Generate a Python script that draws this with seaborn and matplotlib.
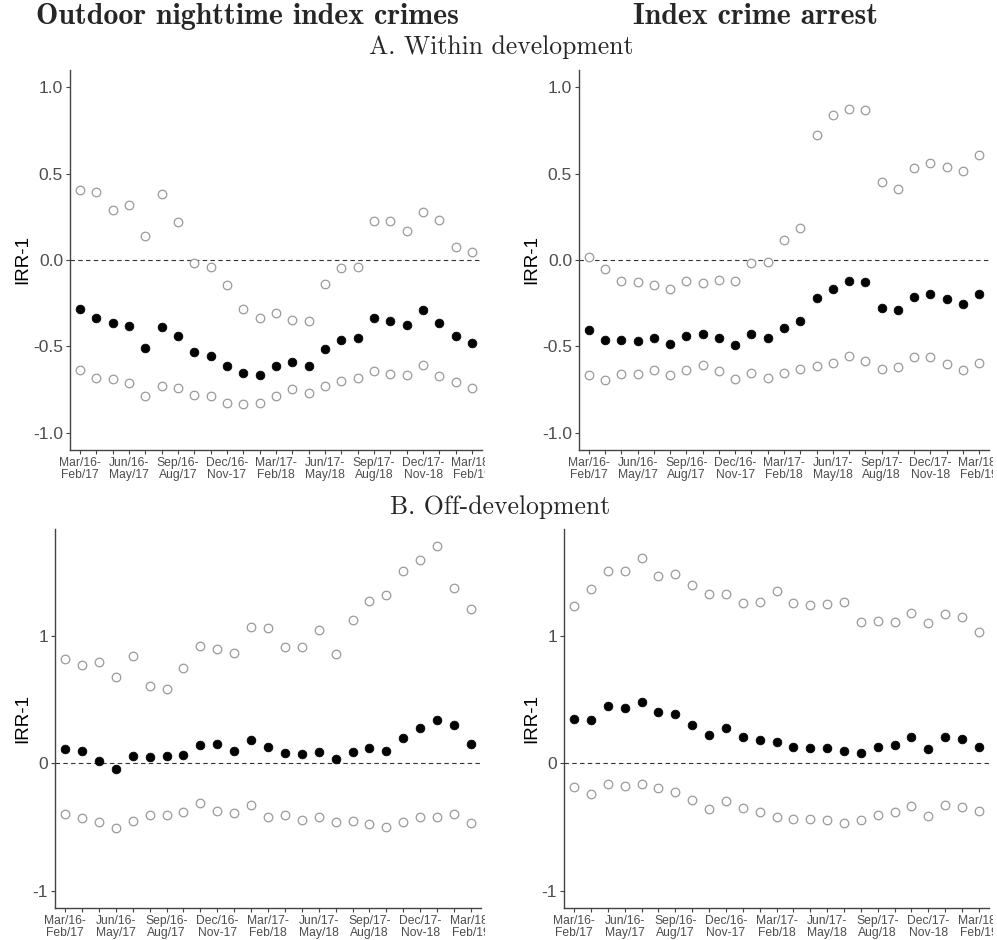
import numpy as np
import pandas as pd
import matplotlib

matplotlib.use("Agg")
import matplotlib.pyplot as plt
from matplotlib.transforms import Bbox, TransformedBbox
import seaborn as sns

sns.set_style("white")
plt.rcParams["font.family"] = ["Liberation Sans", "DejaVu Sans"]

# rolling 12-month windows, one point per month
periods = np.arange(1, 26)
tick_labels = ["Mar/16-\nFeb/17", "Jun/16-\nMay/17", "Sep/16-\nAug/17",
               "Dec/16-\nNov-17", "Mar/17-\nFeb/18", "Jun/17-\nMay/18",
               "Sep/17-\nAug/18", "Dec/17-\nNov-18", "Mar/18-\nFeb/19"]

# A. Within development - outdoor nighttime index crimes
a_crime_est = [-0.285, -0.337, -0.365, -0.383, -0.508, -0.390, -0.438, -0.535, -0.554, -0.615,
               -0.654, -0.663, -0.615, -0.592, -0.615, -0.517, -0.465, -0.450, -0.338, -0.352,
               -0.377, -0.290, -0.365, -0.438, -0.481]
a_crime_hi = [0.404, 0.394, 0.288, 0.317, 0.140, 0.383, 0.221, -0.019, -0.042, -0.146,
              -0.283, -0.335, -0.308, -0.346, -0.354, -0.138, -0.046, -0.042, 0.225, 0.227,
              0.169, 0.279, 0.231, 0.077, 0.044]
a_crime_lo = [-0.635, -0.685, -0.687, -0.712, -0.787, -0.731, -0.740, -0.781, -0.788, -0.827,
              -0.833, -0.829, -0.787, -0.744, -0.771, -0.729, -0.702, -0.685, -0.640, -0.660,
              -0.667, -0.608, -0.673, -0.708, -0.740]

# A. Within development - index crime arrest
a_arrest_est = [-0.408, -0.463, -0.462, -0.471, -0.452, -0.487, -0.438, -0.431, -0.450, -0.492,
                -0.429, -0.452, -0.396, -0.356, -0.219, -0.167, -0.121, -0.127, -0.275, -0.288,
                -0.212, -0.196, -0.223, -0.256, -0.194]
a_arrest_hi = [0.017, -0.054, -0.119, -0.129, -0.142, -0.169, -0.119, -0.131, -0.115, -0.119,
               -0.019, -0.010, 0.113, 0.183, 0.723, 0.840, 0.875, 0.869, 0.450, 0.412,
               0.535, 0.562, 0.540, 0.513, 0.608]
a_arrest_lo = [-0.663, -0.696, -0.660, -0.660, -0.635, -0.663, -0.635, -0.610, -0.644, -0.687,
               -0.654, -0.685, -0.654, -0.631, -0.615, -0.596, -0.554, -0.585, -0.631, -0.621,
               -0.560, -0.563, -0.602, -0.635, -0.596]

# B. Off-development - outdoor nighttime index crimes
b_crime_est = [0.109, 0.094, 0.018, -0.049, 0.057, 0.049, 0.060, 0.063, 0.146, 0.148,
               0.094, 0.182, 0.128, 0.078, 0.070, 0.086, 0.031, 0.089, 0.122, 0.094,
               0.198, 0.279, 0.339, 0.297, 0.154]
b_crime_hi = [0.820, 0.766, 0.789, 0.674, 0.841, 0.602, 0.581, 0.745, 0.922, 0.896,
              0.865, 1.068, 1.060, 0.909, 0.911, 1.047, 0.854, 1.122, 1.273, 1.318,
              1.503, 1.591, 1.698, 1.372, 1.208]
b_crime_lo = [-0.398, -0.432, -0.464, -0.505, -0.456, -0.409, -0.406, -0.385, -0.313, -0.375,
              -0.393, -0.326, -0.422, -0.404, -0.443, -0.424, -0.458, -0.456, -0.477, -0.497,
              -0.461, -0.422, -0.419, -0.396, -0.469]

# B. Off-development - index crime arrest
b_arrest_est = [0.346, 0.341, 0.445, 0.432, 0.477, 0.404, 0.385, 0.299, 0.221, 0.276,
                0.208, 0.182, 0.167, 0.128, 0.122, 0.120, 0.094, 0.083, 0.125, 0.143,
                0.203, 0.112, 0.208, 0.190, 0.125]
b_arrest_hi = [1.229, 1.362, 1.508, 1.503, 1.609, 1.464, 1.482, 1.393, 1.328, 1.323,
               1.258, 1.263, 1.346, 1.258, 1.242, 1.245, 1.263, 1.107, 1.117, 1.104,
               1.177, 1.099, 1.169, 1.143, 1.029]
b_arrest_lo = [-0.185, -0.240, -0.167, -0.180, -0.164, -0.198, -0.224, -0.292, -0.359, -0.297,
               -0.352, -0.383, -0.419, -0.435, -0.438, -0.443, -0.469, -0.443, -0.404, -0.380,
               -0.333, -0.411, -0.326, -0.344, -0.378]

W, H = 997, 940
fig = plt.figure(figsize=(W / 100, H / 100), dpi=100)


def px_axes(x0, x1, top, bottom):
    return fig.add_axes([x0 / W, 1 - bottom / H, (x1 - x0) / W, (bottom - top) / H])


def draw_panel(ax, est, hi, lo, ylim, yticks, ylabels, clip_right):
    df = pd.DataFrame({"period": periods, "est": est, "hi": hi, "lo": lo})
    for col in ["hi", "lo"]:
        sns.scatterplot(data=df, x="period", y=col, ax=ax, s=38, facecolor="white",
                        edgecolor="#9a9a9a", linewidth=0.9, zorder=3)
    sns.scatterplot(data=df, x="period", y="est", ax=ax, s=40, color="black",
                    edgecolor="black", linewidth=0.5, zorder=4)
    ax.axhline(0, color="#333333", lw=0.8, ls=(0, (4, 3)), zorder=1)
    ax.set_xlim(0.4, 25.6)
    ax.set_ylim(*ylim)
    ax.set_xticks(periods)
    ax.set_xticklabels([tick_labels[(i - 1) // 3] if (i - 1) % 3 == 0 else "" for i in periods],
                       fontsize=8.7, color="#4d4d4d", linespacing=1.0)
    ax.set_yticks(yticks)
    ax.set_yticklabels(ylabels, fontsize=12.5, color="#4d4d4d")
    ax.set_xlabel("")
    ax.set_ylabel("IRR-1", fontsize=13.5, color="black", labelpad=1)
    ax.tick_params(axis="both", length=3, width=0.8, color="#444444", pad=2, direction="out",
                   bottom=True, left=True)
    for side in ["top", "right"]:
        ax.spines[side].set_visible(False)
    for side in ["left", "bottom"]:
        ax.spines[side].set_color("#444444")
        ax.spines[side].set_linewidth(1.0)
    # the source panels were cropped images, so the last label is cut at the panel edge
    box = TransformedBbox(Bbox([[0, 0], [clip_right / W, 1]]), fig.transFigure)
    for lab in ax.get_xticklabels():
        lab.set_clip_on(True)
        lab.set_clip_box(box)


ylim_a, yt_a, yl_a = (-1.1, 1.1), [-1.0, -0.5, 0.0, 0.5, 1.0], ["-1.0", "-0.5", "0.0", "0.5", "1.0"]
ylim_b, yt_b, yl_b = (-1.135, 1.835), [-1, 0, 1], ["-1", "0", "1"]

ax1 = px_axes(70, 482, 70, 450)
draw_panel(ax1, a_crime_est, a_crime_hi, a_crime_lo, ylim_a, yt_a, yl_a, 485)
ax2 = px_axes(579, 989, 70, 450)
draw_panel(ax2, a_arrest_est, a_arrest_hi, a_arrest_lo, ylim_a, yt_a, yl_a, 993)
ax3 = px_axes(55, 481, 529, 908)
draw_panel(ax3, b_crime_est, b_crime_hi, b_crime_lo, ylim_b, yt_b, yl_b, 485)
ax4 = px_axes(564, 989, 529, 908)
draw_panel(ax4, b_arrest_est, b_arrest_hi, b_arrest_lo, ylim_b, yt_b, yl_b, 993)

fig.text(247 / W, 1 - 17 / H, "Outdoor nighttime index crimes", family=["cmb10", "DejaVu Serif"],
         fontsize=21.5, ha="center", va="center")
fig.text(755 / W, 1 - 17 / H, "Index crime arrest", family=["cmb10", "DejaVu Serif"],
         fontsize=21.5, ha="center", va="center")
fig.text(501 / W, 1 - 47 / H, "A. Within development", family=["cmr10", "DejaVu Serif"],
         fontsize=18.5, ha="center", va="center")
fig.text(500 / W, 1 - 507 / H, "B. Off-development", family=["cmr10", "DejaVu Serif"],
         fontsize=18.5, ha="center", va="center")

fig.savefig("out.png", dpi=100, facecolor="white")
